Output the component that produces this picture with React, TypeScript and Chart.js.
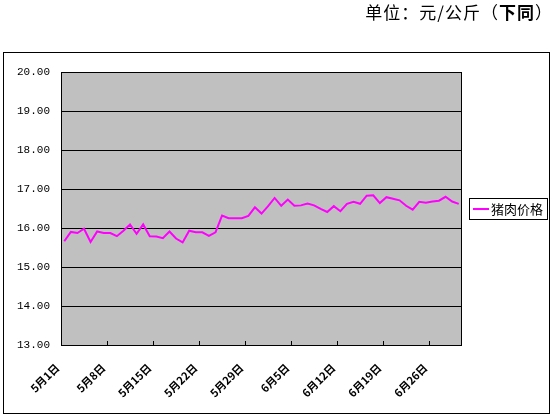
import React, { useEffect, useRef } from "react";
import { Chart, registerables } from "chart.js";

Chart.register(...registerables);

const categories: string[] = [
  "5月1日", "5月2日", "5月3日", "5月4日", "5月5日", "5月6日", "5月7日",
  "5月8日", "5月9日", "5月10日", "5月11日", "5月12日", "5月13日", "5月14日",
  "5月15日", "5月16日", "5月17日", "5月18日", "5月19日", "5月20日", "5月21日",
  "5月22日", "5月23日", "5月24日", "5月25日", "5月26日", "5月27日", "5月28日",
  "5月29日", "5月30日", "5月31日", "6月1日", "6月2日", "6月3日", "6月4日",
  "6月5日", "6月6日", "6月7日", "6月8日", "6月9日", "6月10日", "6月11日",
  "6月12日", "6月13日", "6月14日", "6月15日", "6月16日", "6月17日", "6月18日",
  "6月19日", "6月20日", "6月21日", "6月22日", "6月23日", "6月24日", "6月25日",
  "6月26日", "6月27日", "6月28日", "6月29日", "6月30日",
];

const porkPrices: number[] = [
  15.66, 15.90, 15.87, 15.98, 15.64, 15.91, 15.87,
  15.87, 15.79, 15.93, 16.09, 15.85, 16.09, 15.79,
  15.78, 15.74, 15.91, 15.73, 15.63, 15.93, 15.89,
  15.89, 15.80, 15.89, 16.32, 16.25, 16.25, 16.25,
  16.31, 16.53, 16.37, 16.56, 16.77, 16.57, 16.73,
  16.57, 16.58, 16.63, 16.58, 16.49, 16.41, 16.56,
  16.43, 16.62, 16.67, 16.62, 16.83, 16.84, 16.64,
  16.79, 16.75, 16.71, 16.57, 16.47, 16.67, 16.65,
  16.68, 16.70, 16.80, 16.68, 16.62,
];

const seriesName = "猪肉价格";
const unitTitleA = "单位：元/公斤（";
const unitTitleB = "下同";
const unitTitleC = "）";
const yMin = 13;
const yMax = 20;
const labelEvery = 7;

const CJK = "'Noto Sans CJK SC', 'Noto Sans', sans-serif";

const decorPlugin = {
  id: "decor",
  beforeDraw(chart: any) {
    const { ctx, chartArea } = chart;
    ctx.save();
    ctx.fillStyle = "#ffffff";
    ctx.fillRect(0, 0, chart.width, chart.height);
    ctx.fillStyle = "#C0C0C0";
    ctx.fillRect(chartArea.left, chartArea.top, chartArea.right - chartArea.left, chartArea.bottom - chartArea.top);
    ctx.restore();
  },
  afterDraw(chart: any) {
    const { ctx, chartArea } = chart;
    const xs = chart.scales.x;
    ctx.save();
    // outer border
    ctx.strokeStyle = "#000";
    ctx.lineWidth = 1;
    ctx.strokeRect(3.5, 52.5, 546, 361);
    // plot border
    ctx.strokeRect(chartArea.left + 0.5, chartArea.top + 0.5, chartArea.right - chartArea.left - 1, chartArea.bottom - chartArea.top);
    // inside tick marks between categories every 7
    ctx.beginPath();
    for (let k = labelEvery; k < categories.length; k += labelEvery) {
      const px = Math.round((xs.getPixelForValue(k - 1) + xs.getPixelForValue(k)) / 2) + 0.5;
      ctx.moveTo(px, chartArea.bottom);
      ctx.lineTo(px, chartArea.bottom - 4);
    }
    ctx.stroke();
    // title
    ctx.fillStyle = "#000";
    ctx.textBaseline = "middle";
    ctx.textAlign = "left";
    try { (ctx as any).letterSpacing = "1px"; } catch (e) {}
    const fN = `17px ${CJK}`;
    const fB = `bold 17px ${CJK}`;
    ctx.font = fN;
    const wA = ctx.measureText(unitTitleA).width;
    const wC = ctx.measureText(unitTitleC).width;
    ctx.font = fB;
    const wB = ctx.measureText(unitTitleB).width;
    const right = 553;
    const x0 = right - (wA + wB + wC);
    const ty = 13;
    ctx.font = fN;
    ctx.fillText(unitTitleA, x0, ty);
    ctx.font = fB;
    ctx.fillText(unitTitleB, x0 + wA, ty);
    ctx.font = fN;
    ctx.fillText(unitTitleC, x0 + wA + wB, ty);
    try { (ctx as any).letterSpacing = "0px"; } catch (e) {}
    // legend
    const ds = chart.data.datasets[0];
    const lx = 469, ly = 198, lw = 78, lh = 21;
    ctx.fillStyle = "#fff";
    ctx.fillRect(lx, ly, lw, lh);
    ctx.strokeRect(lx + 0.5, ly + 0.5, lw, lh);
    const cy = ly + lh / 2 + 0.5;
    ctx.strokeStyle = ds.borderColor;
    ctx.lineWidth = 2;
    ctx.beginPath();
    ctx.moveTo(lx + 4, cy);
    ctx.lineTo(lx + 20, cy);
    ctx.stroke();
    ctx.fillStyle = "#000";
    ctx.font = `13px ${CJK}`;
    ctx.textAlign = "left";
    ctx.fillText(ds.label, lx + 22, cy);
    ctx.restore();
  },
};

export default function App() {
  const ref = useRef<HTMLCanvasElement>(null);

  useEffect(() => {
    if (!ref.current) return;
    const chart = new Chart(ref.current, {
      type: "line",
      data: {
        labels: categories,
        datasets: [
          {
            label: seriesName,
            data: porkPrices,
            borderColor: "#FF00FF",
            backgroundColor: "#FF00FF",
            borderWidth: 2,
            pointRadius: 0,
            tension: 0,
            fill: false,
          },
        ],
      },
      options: {
        animation: false,
        responsive: false,
        devicePixelRatio: 1,
        layout: { padding: { left: 0, top: 72, right: 91, bottom: 0 } },
        plugins: {
          legend: { display: false },
          title: { display: false },
          tooltip: { enabled: false },
        },
        scales: {
          x: {
            type: "category",
            offset: true,
            grid: { display: false, drawTicks: false },
            border: { display: false },
            afterFit: (s: any) => {
              s.height = 72;
            },
            ticks: {
              autoSkip: false,
              minRotation: 45,
              maxRotation: 45,
              padding: 16,
              labelOffset: -7,
              color: "#000",
              font: { family: CJK, size: 11, weight: "bold" },
              callback: (_v: any, i: number) => (i % labelEvery === 0 ? categories[i] : null),
            },
          },
          y: {
            min: yMin,
            max: yMax,
            afterFit: (s: any) => {
              s.width = 61;
            },
            grid: { color: "#000", lineWidth: 1, drawTicks: false },
            border: { display: false },
            ticks: {
              stepSize: 1,
              padding: 11,
              color: "#000",
              font: { family: "'Liberation Mono', monospace", size: 11 },
              callback: (v: any) => Number(v).toFixed(2),
            },
          },
        },
      },
      plugins: [decorPlugin],
    });
    return () => chart.destroy();
  }, []);

  return (
    <div style={{ position: "absolute", left: 0, top: 0, width: 553, height: 417 }}>
      <canvas ref={ref} width={553} height={417} style={{ width: 553, height: 417, display: "block" }} />
    </div>
  );
}
